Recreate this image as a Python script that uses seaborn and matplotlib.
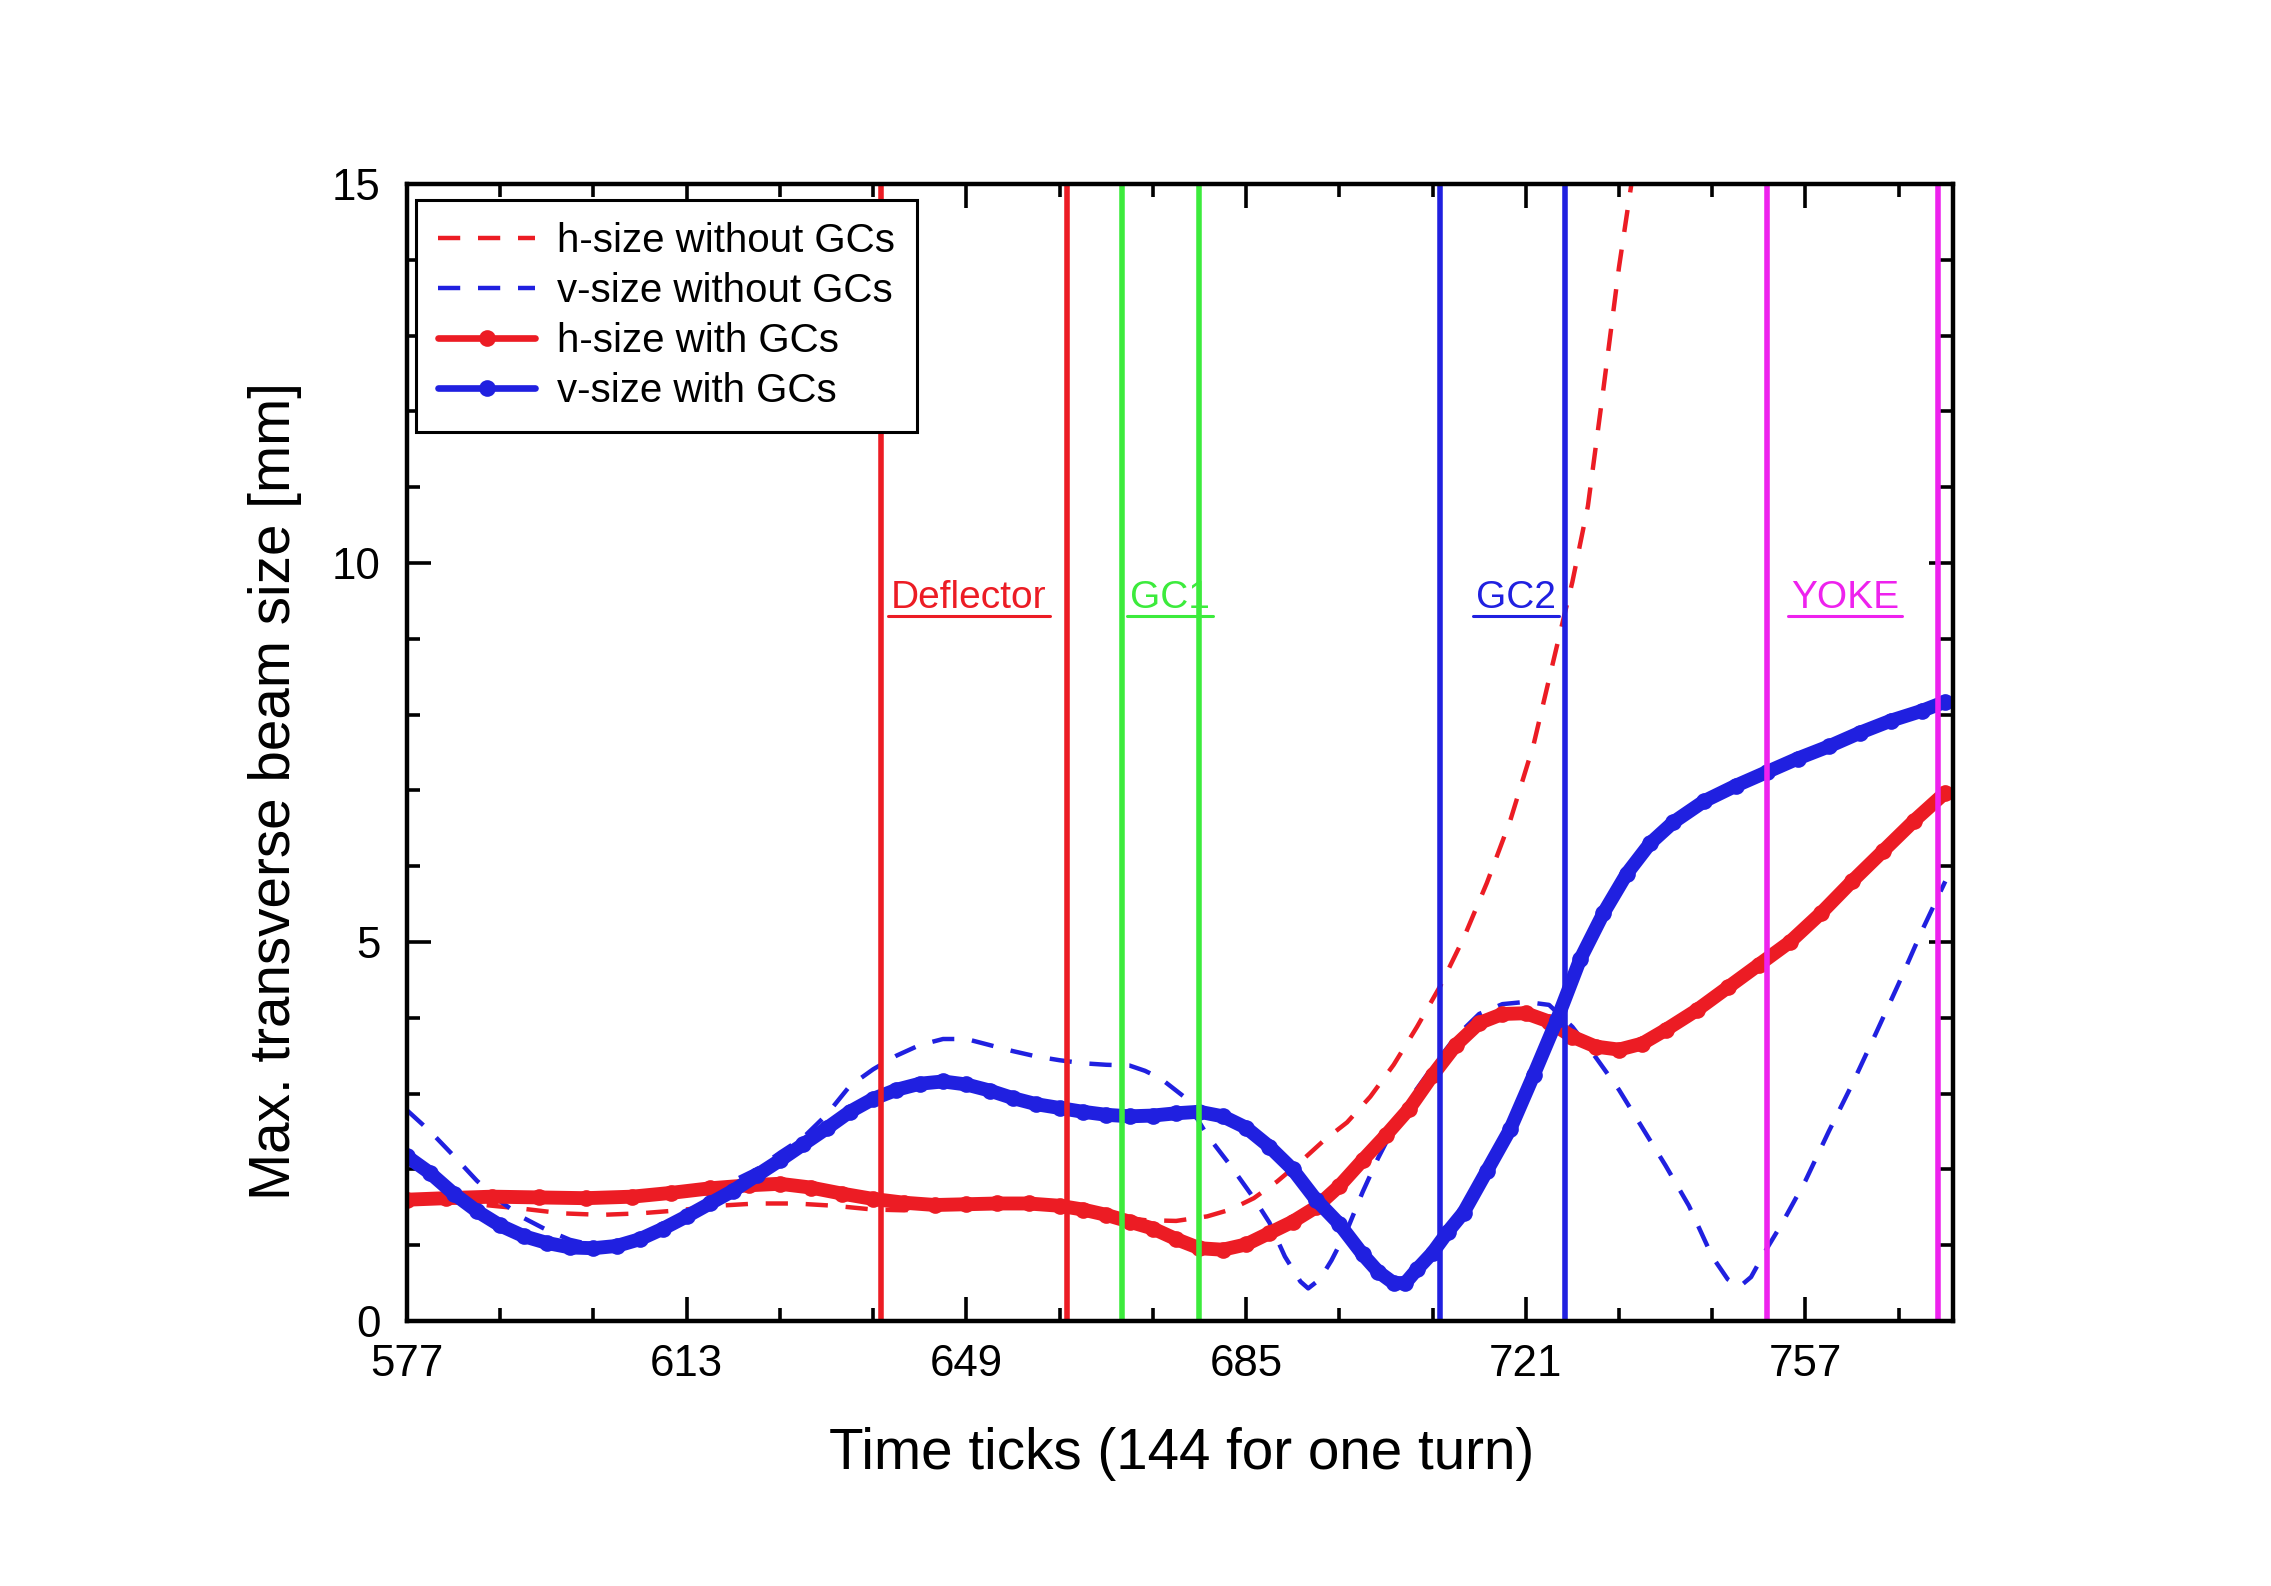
import numpy as np
import pandas as pd
import matplotlib.pyplot as plt
from matplotlib.lines import Line2D
from matplotlib.ticker import MultipleLocator, FixedLocator
import seaborn as sns

# ---------------- data

# h-size with GCs (red, solid + dots)
h_with_x = [577, 582, 588, 594, 600, 606, 611, 616, 621, 625, 629, 633, 637, 641, 645,
            649, 653, 657, 661, 664, 667, 670, 673, 676, 679, 682, 685, 688, 691, 694,
            697, 700, 703, 706, 709, 712, 715, 718, 721, 724, 727, 730, 733, 736, 739,
            743, 747, 751, 755, 759, 763, 767, 771, 775]
h_with_y = [1.60, 1.62, 1.64, 1.63, 1.62, 1.64, 1.69, 1.75, 1.79, 1.81, 1.76, 1.68, 1.61, 1.56, 1.53,
            1.54, 1.55, 1.55, 1.52, 1.47, 1.40, 1.31, 1.22, 1.08, 0.96, 0.94, 1.01, 1.16, 1.31, 1.50,
            1.78, 2.12, 2.45, 2.80, 3.24, 3.64, 3.93, 4.05, 4.06, 3.95, 3.75, 3.62, 3.58, 3.66, 3.84,
            4.10, 4.40, 4.70, 5.00, 5.38, 5.80, 6.20, 6.60, 6.97]

# v-size with GCs (blue, solid + dots)
v_with_x = [577, 580, 583, 586, 589, 592, 595, 598, 601, 604, 607, 610, 613, 616, 619,
            622, 625, 628, 631, 634, 637, 640, 643, 646, 649, 652, 655, 658, 661, 664,
            667, 670, 673, 676, 679, 682, 685, 688, 691, 694, 697, 700, 702, 704, 705.5,
            707, 709, 711, 713, 716, 719, 722, 725, 728, 731, 734, 737, 740, 744, 748,
            752, 756, 760, 764, 768, 772, 775]
v_with_y = [2.17, 1.95, 1.68, 1.45, 1.26, 1.12, 1.03, 0.97, 0.96, 0.99, 1.08, 1.22, 1.38, 1.55, 1.72,
            1.92, 2.12, 2.33, 2.54, 2.76, 2.93, 3.05, 3.13, 3.16, 3.12, 3.04, 2.94, 2.86, 2.81, 2.76,
            2.72, 2.70, 2.71, 2.74, 2.76, 2.70, 2.55, 2.30, 2.00, 1.60, 1.28, 0.88, 0.65, 0.50, 0.50,
            0.68, 0.90, 1.18, 1.43, 1.98, 2.53, 3.24, 3.97, 4.77, 5.38, 5.90, 6.30, 6.58, 6.86, 7.06,
            7.24, 7.42, 7.58, 7.76, 7.92, 8.05, 8.17]

# h-size without GCs (red dashed)
h_wo_x = [577, 582, 587, 592, 597, 602, 607, 612, 617, 622, 627, 632, 637, 641, 645,
          650, 655, 660, 664, 668, 672, 676, 680, 683, 686, 689, 692, 695, 698, 701,
          704, 707, 710, 713, 716, 719, 722, 725, 727, 729, 731, 733, 734.6]
h_wo_y = [1.62, 1.58, 1.53, 1.48, 1.42, 1.40, 1.42, 1.46, 1.52, 1.55, 1.55, 1.52, 1.47, 1.46, 1.50,
          1.54, 1.53, 1.50, 1.45, 1.38, 1.33, 1.32, 1.38, 1.47, 1.62, 1.84, 2.10, 2.38, 2.62, 2.96,
          3.38, 3.88, 4.42, 5.05, 5.78, 6.60, 7.60, 8.90, 9.75, 10.75, 12.30, 13.90, 15.00]

# v-size without GCs (blue dashed)
v_wo_x = [577, 580, 583, 586, 589, 592, 595, 598, 601, 604, 607, 610, 613, 616, 619,
          622, 625, 628, 631, 634, 637, 640, 643, 646, 649, 652, 655, 658, 661, 664,
          667, 670, 672, 674, 677, 680, 683, 686, 688, 690, 692, 693, 694.5, 696, 698,
          700, 702, 704, 706, 709, 712, 715, 718, 721, 724, 727, 730, 733, 736, 739,
          742, 745, 747, 748.5, 750, 752, 754, 757, 760, 763, 766, 769, 772, 775]
v_wo_y = [2.78, 2.50, 2.18, 1.85, 1.58, 1.36, 1.20, 1.07, 1.00, 0.99, 1.05, 1.18, 1.35, 1.60, 1.85,
          2.00, 2.22, 2.42, 2.72, 3.10, 3.32, 3.50, 3.64, 3.72, 3.72, 3.64, 3.56, 3.49, 3.44, 3.40,
          3.38, 3.37, 3.30, 3.20, 2.96, 2.45, 2.05, 1.62, 1.30, 0.85, 0.52, 0.43, 0.55, 0.80, 1.20,
          1.70, 2.15, 2.55, 2.92, 3.35, 3.75, 4.05, 4.18, 4.21, 4.17, 3.88, 3.48, 3.05, 2.55, 2.05,
          1.52, 0.85, 0.55, 0.45, 0.58, 0.95, 1.29, 1.85, 2.50, 3.12, 3.78, 4.45, 5.15, 5.80]

# element boundaries and labels
boundary_x = [638, 662, 669, 679, 710, 726, 752, 774]
boundary_col = ["#EC1C24", "#EC1C24", "#3CEB3C", "#3CEB3C", "#2020E0", "#2020E0", "#EE22EE", "#EE22EE"]
region_names = ["Deflector", "GC1", "GC2", "YOKE"]
region_x = [649.3, 675.2, 719.7, 762.1]
region_col = ["#EC1C24", "#3CEB3C", "#2020E0", "#EE22EE"]
region_y = 9.40
underline_y = 9.30

RED = "#EC1C24"
BLUE = "#2020E0"

# ---------------- style

sns.set_style("ticks")
plt.rcParams['font.family'] = ['Liberation Sans', 'DejaVu Sans']
plt.rcParams['text.color'] = 'black'
plt.rcParams['axes.labelcolor'] = 'black'
plt.rcParams['xtick.color'] = 'black'
plt.rcParams['ytick.color'] = 'black'

fig = plt.figure(figsize=(2271 / 200, 1586 / 200), dpi=200)
ax = fig.add_axes([0.1792, 0.1671, 0.6808, 0.7169])

dash = (0, (5, 4))
sns.lineplot(x=h_wo_x, y=h_wo_y, ax=ax, color=RED, lw=1.6, linestyle=dash, zorder=3)
sns.lineplot(x=v_wo_x, y=v_wo_y, ax=ax, color=BLUE, lw=1.6, linestyle=dash, zorder=3)
sns.lineplot(x=h_with_x, y=h_with_y, ax=ax, color=RED, lw=5.0, marker="o",
             markersize=6, markeredgewidth=0, zorder=4)
sns.lineplot(x=v_with_x, y=v_with_y, ax=ax, color=BLUE, lw=5.0, marker="o",
             markersize=6, markeredgewidth=0, zorder=4)

for xv, c in zip(boundary_x, boundary_col):
    ax.axvline(xv, color=c, lw=2.0, zorder=5)

ax.set_xlim(577, 776)
ax.set_ylim(0, 15)
ax.xaxis.set_major_locator(FixedLocator([577, 613, 649, 685, 721, 757]))
ax.xaxis.set_minor_locator(MultipleLocator(12, offset=1))
ax.yaxis.set_major_locator(MultipleLocator(5))
ax.yaxis.set_minor_locator(MultipleLocator(1))

for s in ax.spines.values():
    s.set_visible(True)
    s.set_linewidth(1.6)
    s.set_color("black")
    s.set_zorder(6)
ax.tick_params(which="both", direction="in", top=True, right=True, width=1.3, color="black",
               labelcolor="black")
ax.tick_params(which="major", length=8.5, labelsize=15.8)
ax.tick_params(which="minor", length=4.7)
ax.tick_params(axis="x", which="major", pad=8.3)
ax.tick_params(axis="y", which="major", pad=9.5)
ax.set_xlabel("")
ax.set_ylabel("")

fig.text(1182 / 2271, 0.083, "Time ticks (144 for one turn)", fontsize=20.4,
         ha="center", va="center", color="black")
fig.text(275 / 2271, 0.501, "Max. transverse beam size [mm]", fontsize=20.4,
         ha="center", va="center", rotation=90, color="black")

texts = []
for name, xv, c in zip(region_names, region_x, region_col):
    t = ax.text(xv, region_y, name, color=c, fontsize=14, ha="center", va="baseline", zorder=5)
    texts.append(t)

fig.canvas.draw()
renderer = fig.canvas.get_renderer()
for t, c in zip(texts, region_col):
    bb = t.get_window_extent(renderer).transformed(ax.transData.inverted())
    ax.plot([bb.x0 - 0.4, bb.x1 + 0.4], [underline_y, underline_y], color=c, lw=1.1, zorder=5)

handles = [
    Line2D([], [], color=RED, lw=1.6, linestyle=dash),
    Line2D([], [], color=BLUE, lw=1.6, linestyle=dash),
    Line2D([], [], color=RED, lw=2.4, marker="o", markersize=6, markeredgewidth=0),
    Line2D([], [], color=BLUE, lw=2.4, marker="o", markersize=6, markeredgewidth=0),
]
labels = ["h-size without GCs", "v-size without GCs", "h-size with GCs", "v-size with GCs"]
leg = ax.legend(handles, labels, loc="upper left", bbox_to_anchor=(0.006, 0.986),
                borderaxespad=0, fontsize=14.5, handlelength=2.4, handletextpad=0.55,
                borderpad=0.55, labelspacing=0.30, fancybox=False, framealpha=1,
                edgecolor="black", numpoints=1)
leg.get_frame().set_linewidth(1.1)
leg.set_zorder(10)

fig.savefig("out.png", dpi=200)
